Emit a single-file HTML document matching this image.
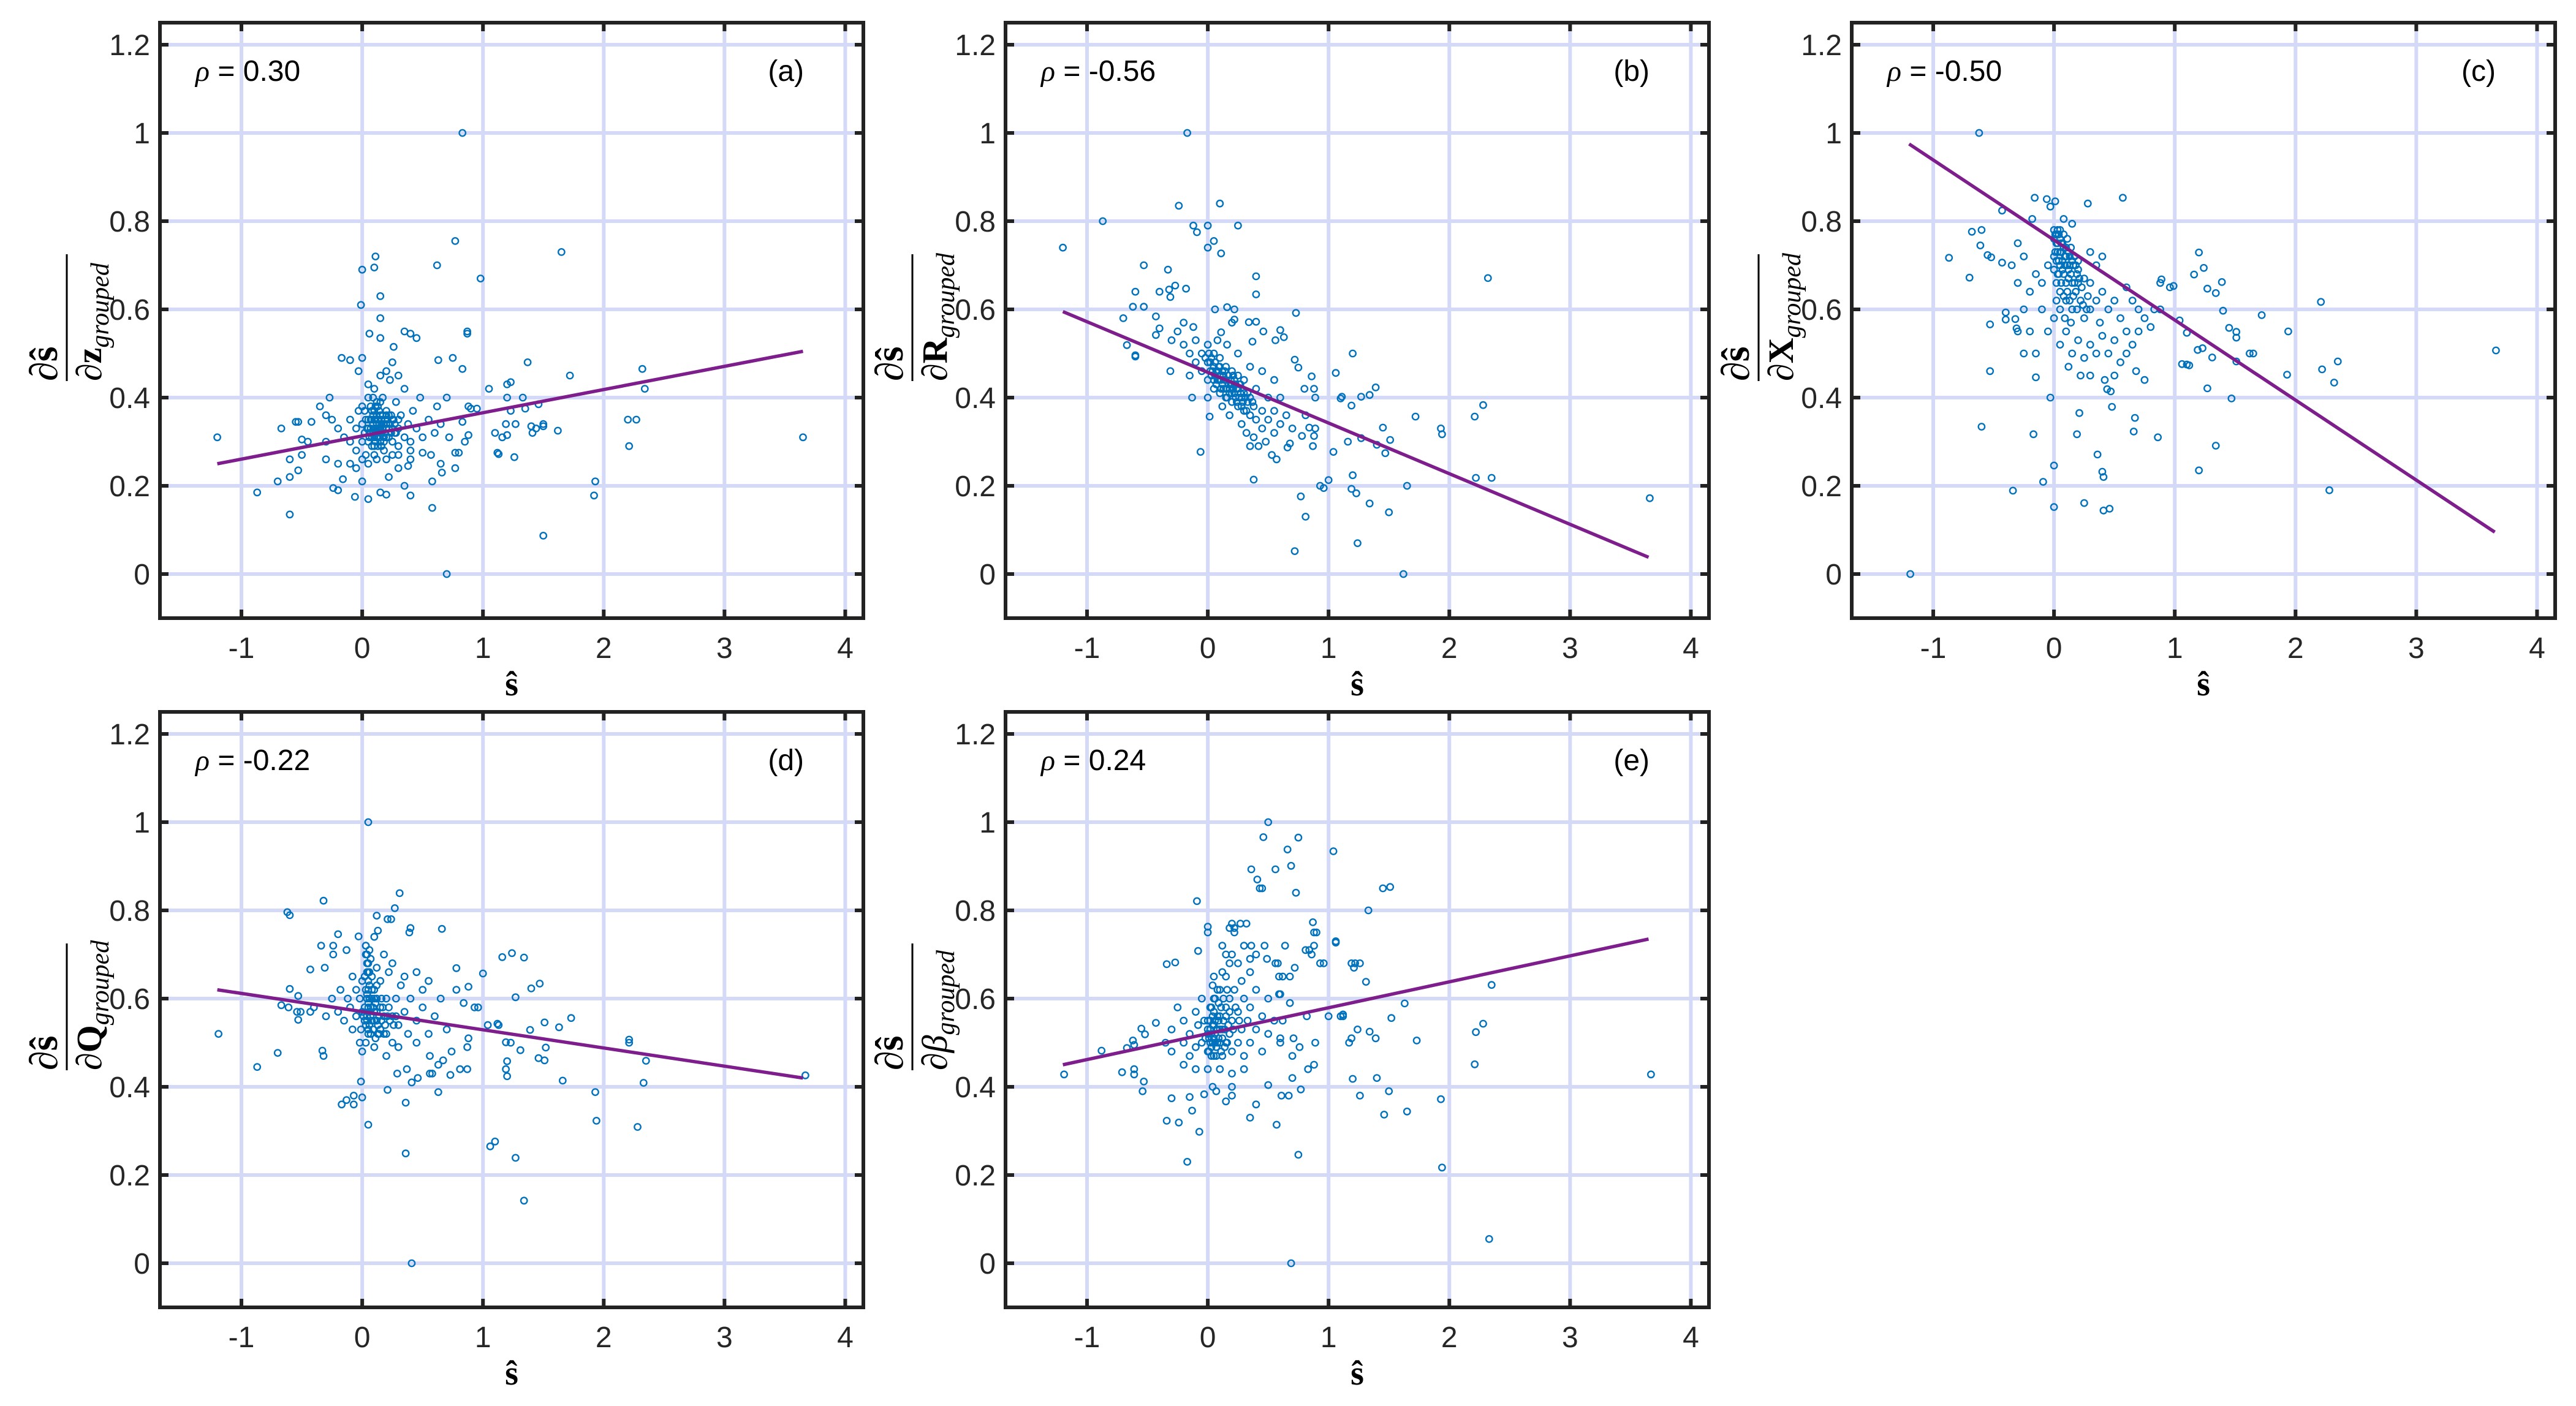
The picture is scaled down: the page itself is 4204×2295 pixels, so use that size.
<!DOCTYPE html>
<html><head><meta charset="utf-8"><title>Sensitivity scatter panels</title>
<style>
html,body{margin:0;padding:0;background:#fff;}
svg{display:block;}
.tick{font-family:"Liberation Sans",sans-serif;font-size:48px;fill:#262626;}
.ann{font-family:"Liberation Sans",sans-serif;font-size:48px;fill:#000;}
.ser{font-family:"Liberation Serif",serif;fill:#000;}
</style></head>
<body>
<svg id="fig" xmlns="http://www.w3.org/2000/svg" width="4204" height="2295" viewBox="0 0 4204 2295"></svg>
<script>
const xTicks = [-1, 0, 1, 2, 3, 4];
const yTicks = [0, 0.2, 0.4, 0.6, 0.8, 1, 1.2];
const yTickLabels = ["0", "0.2", "0.4", "0.6", "0.8", "1", "1.2"];
const xLim = [-1.675, 4.15];
const yLim = [-0.1, 1.25];
const panelLetters = ["(a)", "(b)", "(c)", "(d)", "(e)"];
const rhoLabels = ["0.30", "-0.56", "-0.50", "-0.22", "0.24"];
const denomSymbols = ["z", "R", "X", "Q", "β"];

const fitA = [-1.2, 0.25, 3.65, 0.505];
const fitB = [-1.2, 0.595, 3.65, 0.038];
const fitC = [-1.2, 0.975, 3.65, 0.095];
const fitD = [-1.2, 0.62, 3.65, 0.42];
const fitE = [-1.2, 0.45, 3.65, 0.735];

const ptsA = [[-1.2,0.31],[-0.87,0.185],[-0.6,0.135],[-0.7,0.21],[-0.6,0.22],[-0.53,0.235],[-0.6,0.26],[-0.67,0.33],[-0.55,0.345],[-0.53,0.345],[-0.42,0.345],[-0.45,0.3],[-0.5,0.305],[-0.5,0.27],[-0.35,0.38],[-0.3,0.36],[-0.27,0.4],[-0.17,0.49],[-0.1,0.485],[-0.03,0.46],[0,0.49],[-0.01,0.61],[0,0.69],[0.1,0.695],[0.11,0.72],[0.15,0.63],[0.15,0.58],[0.06,0.545],[0.15,0.535],[0.26,0.515],[0.35,0.55],[0.45,0.535],[0.4,0.545],[0.62,0.7],[0.77,0.755],[0.83,1.0],[0.98,0.67],[0.87,0.55],[0.87,0.545],[0.75,0.49],[0.63,0.485],[0.83,0.465],[1.65,0.73],[1.37,0.48],[1.72,0.45],[2.32,0.465],[2.34,0.42],[1.2,0.43],[1.23,0.435],[1.05,0.42],[1.2,0.4],[1.33,0.4],[1.46,0.385],[1.35,0.375],[1.23,0.37],[2.2,0.35],[2.27,0.35],[2.21,0.29],[1.5,0.34],[1.5,0.335],[1.4,0.335],[1.44,0.33],[1.27,0.34],[1.41,0.32],[1.62,0.325],[1.19,0.34],[1.1,0.32],[1.2,0.315],[1.16,0.31],[1.12,0.275],[1.13,0.272],[1.26,0.265],[3.65,0.31],[1.93,0.21],[1.92,0.178],[1.5,0.087],[0.7,0],[0.58,0.15],[0.4,0.178],[0.35,0.2],[0.2,0.18],[0.15,0.185],[0.05,0.17],[-0.06,0.175],[-0.2,0.19],[-0.24,0.195],[-0.16,0.215],[0,0.21],[0.22,0.22],[0.3,0.24],[0.38,0.245],[0.4,0.28],[0.58,0.21],[0.65,0.25],[0.66,0.23],[0.77,0.24],[0.8,0.275],[0.77,0.275],[0.72,0.31],[0.85,0.3],[0.88,0.315],[0.9,0.375],[0.88,0.38],[0.95,0.375],[0.83,0.345],[0.57,0.27],[0.5,0.275],[-0.1,0.25],[-0.05,0.24],[-0.2,0.25],[-0.3,0.26],[0.05,0.25],[0.12,0.26],[0.25,0.27],
[-0.2,0.33],[-0.15,0.31],[-0.1,0.35],[-0.1,0.3],[-0.05,0.28],[-0.05,0.33],[-0.03,0.37],[0,0.3],[0,0.34],[0,0.38],[0.02,0.32],[0.03,0.27],[0.05,0.35],[0.05,0.3],[0.05,0.4],[0.07,0.33],[0.08,0.31],[0.08,0.37],[0.1,0.29],[0.1,0.33],[0.1,0.35],[0.1,0.42],[0.12,0.31],[0.12,0.34],[0.13,0.38],[0.15,0.32],[0.15,0.3],[0.15,0.36],[0.17,0.33],[0.17,0.4],[0.18,0.28],[0.2,0.34],[0.2,0.31],[0.2,0.37],[0.22,0.33],[0.23,0.44],[0.25,0.3],[0.25,0.35],[0.27,0.32],[0.28,0.39],[0.3,0.33],[0.3,0.29],[0.32,0.36],[0.35,0.31],[0.35,0.42],[0.38,0.34],[0.4,0.3],[0.42,0.37],[0.45,0.33],[0.48,0.4],[0.5,0.31],[0.55,0.35],[0.6,0.32],[0.62,0.38],[0.65,0.34],[0.7,0.4],[0.2,0.46],[0.25,0.48],[0.15,0.45],[0.3,0.45],[0.05,0.43],[-0.3,0.3],[-0.25,0.35],[0,0.26],[0.1,0.27],[0.2,0.26],[0.3,0.27],[0.4,0.26],[0.12,0.36],[0.14,0.34],[0.06,0.32],[0.09,0.34],[0.11,0.3],[0.16,0.35],[0.19,0.32],[0.08,0.35],[0.13,0.33],[0.18,0.34],[0.04,0.33],[0.22,0.36],[0.11,0.38],[0.16,0.29],[0.24,0.32]];
const coreA = [[0.06,0.31],[0.07,0.35],[0.09,0.32],[0.1,0.31],[0.1,0.37],[0.11,0.33],[0.12,0.32],[0.13,0.35],[0.14,0.31],[0.14,0.37],[0.15,0.33],[0.16,0.32],[0.17,0.36],[0.18,0.31],[0.19,0.35],[0.2,0.33],[0.21,0.35],[0.22,0.31],[0.23,0.34],[0.24,0.36],[0.25,0.33],[0.26,0.35],[0.27,0.34],[0.28,0.32],[0.3,0.35],[0.07,0.38],[0.09,0.4],[0.12,0.39],[0.15,0.39],[0.08,0.29],[0.13,0.29],[0.18,0.3],[0.03,0.35],[0.02,0.37],[0.05,0.33],[0.09,0.36],[0.11,0.35],[0.16,0.34],[0.2,0.36],[0.14,0.33]];

const ptsB = [[-1.2,0.74],[-0.87,0.8],[-0.17,1.0],[-0.24,0.835],[0.1,0.84],[-0.12,0.79],[-0.09,0.775],[0,0.79],[0.25,0.79],[0.05,0.755],[0,0.74],[0.11,0.727],[-0.53,0.7],[-0.33,0.69],[0.4,0.675],[0.4,0.634],[-0.27,0.654],[-0.32,0.645],[-0.18,0.647],[-0.4,0.64],[-0.6,0.64],[-0.31,0.628],[-0.62,0.606],[-0.53,0.606],[0.06,0.6],[0.16,0.605],[0.22,0.6],[0.73,0.592],[-0.7,0.58],[-0.43,0.584],[-0.4,0.557],[-0.43,0.542],[-0.67,0.519],[-0.6,0.496],[-0.6,0.493],[-0.31,0.46],[-0.13,0.4],[0.015,0.357],[-0.06,0.277],[0.38,0.214],[1.2,0.5],[1.06,0.456],[1.39,0.423],[1.34,0.406],[1.27,0.402],[1.11,0.402],[1.1,0.398],[1.19,0.382],[1.72,0.357],[1.93,0.33],[1.94,0.317],[2.21,0.357],[2.28,0.383],[2.32,0.671],[1.45,0.332],[1.27,0.308],[1.51,0.304],[1.4,0.293],[1.47,0.274],[1.16,0.3],[1.04,0.277],[2.22,0.218],[2.35,0.218],[3.66,0.172],[1.65,0.2],[1.2,0.224],[1.19,0.193],[1.23,0.183],[1.34,0.16],[1.5,0.14],[0.93,0.2],[0.96,0.195],[1.0,0.213],[0.77,0.176],[0.81,0.13],[1.24,0.07],[0.72,0.052],[1.62,0],[0.57,0.26],[0.68,0.296],[0.66,0.287],[0.88,0.313],[0.87,0.29],[0.78,0.313],[0.89,0.33],[0.84,0.332],[0.81,0.36],[0.86,0.448],[0.88,0.42],[0.8,0.42],[0.89,0.4],[0.75,0.468],[0.72,0.486],[0.6,0.553],[0.63,0.537],[0.56,0.53],[0.46,0.55],[0.37,0.527],[0.34,0.571],[0.4,0.572],[0.22,0.577],[0.2,0.57],[0.11,0.548],
[-0.2,0.52],[-0.15,0.5],[-0.1,0.48],[-0.1,0.53],[-0.05,0.46],[-0.05,0.5],[0,0.44],[0,0.48],[0,0.52],[0.02,0.46],[0.05,0.42],[0.05,0.47],[0.05,0.5],[0.08,0.44],[0.1,0.41],[0.1,0.45],[0.1,0.49],[0.12,0.43],[0.15,0.4],[0.15,0.44],[0.15,0.47],[0.18,0.42],[0.2,0.39],[0.2,0.43],[0.2,0.46],[0.22,0.41],[0.25,0.38],[0.25,0.42],[0.25,0.45],[0.28,0.4],[0.3,0.37],[0.3,0.41],[0.3,0.44],[0.33,0.39],[0.35,0.36],[0.35,0.4],[0.38,0.38],[0.4,0.35],[0.4,0.42],[0.45,0.37],[0.45,0.33],[0.5,0.35],[0.5,0.4],[0.55,0.32],[0.55,0.37],[0.6,0.34],[0.6,0.4],[0.65,0.36],[0.7,0.33],[0.12,0.38],[0.18,0.36],[0.28,0.34],[0.38,0.31],[0.42,0.29],[0.48,0.3],[0.53,0.27],[0.35,0.29],[0.32,0.32],[-0.25,0.55],[-0.3,0.53],[-0.2,0.57],[-0.12,0.56],[0.08,0.53],[0.16,0.52],[0.25,0.5],[0.35,0.47],[0.45,0.46],[0.55,0.44],[-0.15,0.45],[0,0.4],[0.07,0.46],[0.13,0.45],[0.17,0.43],[0.23,0.43],[0.03,0.49],[0.09,0.47],[0.19,0.44],[0.27,0.41]];
const coreB = [[0.02,0.48],[0.04,0.46],[0.06,0.45],[0.08,0.46],[0.09,0.44],[0.11,0.44],[0.12,0.46],[0.13,0.42],[0.14,0.44],[0.16,0.42],[0.17,0.45],[0.18,0.41],[0.19,0.43],[0.21,0.42],[0.22,0.44],[0.23,0.4],[0.24,0.42],[0.26,0.4],[0.27,0.43],[0.29,0.39],[0.31,0.4],[0.06,0.48],[0.1,0.47],[0.14,0.46],[0.03,0.45],[0.07,0.43],[0.11,0.42],[0.15,0.42],[0.2,0.41],[0.24,0.39],[0.28,0.38],[0.32,0.37],[0.01,0.5],[-0.02,0.49],[0.05,0.44],[0.16,0.4],[0.21,0.45],[0.26,0.43],[0.33,0.41],[0.37,0.39]];

const ptsC = [[-0.62,1.0],[-1.19,0],[-0.16,0.853],[-0.06,0.85],[-0.03,0.833],[0.01,0.845],[0.28,0.84],[0.57,0.853],[-0.43,0.824],[-0.18,0.805],[0.08,0.805],[0.15,0.794],[-0.68,0.776],[-0.6,0.78],[-0.61,0.745],[-0.87,0.717],[-0.7,0.672],[-0.55,0.723],[-0.52,0.718],[-0.43,0.706],[-0.53,0.566],[-0.4,0.593],[-0.4,0.577],[-0.32,0.578],[-0.31,0.557],[-0.53,0.46],[-0.6,0.334],[-0.34,0.189],[-0.17,0.317],[-0.15,0.446],[-0.03,0.4],[0,0.246],[0,0.152],[-0.09,0.209],[0.21,0.365],[0.19,0.317],[0.25,0.161],[0.36,0.271],[0.4,0.232],[0.41,0.22],[0.41,0.144],[0.46,0.148],[0.44,0.419],[0.47,0.414],[0.48,0.379],[0.67,0.354],[0.66,0.323],[0.86,0.31],[1.34,0.291],[1.2,0.235],[2.28,0.19],[1.27,0.421],[1.47,0.398],[1.06,0.476],[1.1,0.475],[1.12,0.473],[1.19,0.508],[1.23,0.512],[1.31,0.491],[1.51,0.482],[1.62,0.5],[1.65,0.5],[1.93,0.452],[2.22,0.464],[2.35,0.482],[2.32,0.434],[3.66,0.507],[2.21,0.617],[1.72,0.587],[1.94,0.55],[1.45,0.558],[1.51,0.549],[1.51,0.536],[1.4,0.597],[1.2,0.729],[1.24,0.694],[1.16,0.679],[1.39,0.662],[1.27,0.647],[1.34,0.637],[1.04,0.575],[1.1,0.547],[0.99,0.653],[0.96,0.65],[0.89,0.668],[0.88,0.66],[0.83,0.6],[0.88,0.6],
[0,0.78],[0,0.76],[0.02,0.77],[0.03,0.75],[0.05,0.76],[0.05,0.73],[0.08,0.74],[0.1,0.72],[0.12,0.73],[0.15,0.71],[0.18,0.7],[0.2,0.69],[0,0.72],[0,0.69],[0.02,0.66],[0.05,0.7],[0.05,0.64],[0.08,0.68],[0.1,0.66],[0.1,0.62],[0.12,0.69],[0.15,0.66],[0.15,0.6],[0.18,0.64],[0.2,0.66],[0.22,0.62],[0.25,0.67],[0.25,0.58],[0.28,0.63],[0.3,0.6],[0.3,0.66],[0.35,0.62],[0.38,0.57],[0.4,0.64],[0.45,0.6],[0.5,0.62],[0.55,0.58],[0.6,0.55],[-0.05,0.7],[-0.1,0.66],[-0.15,0.68],[-0.2,0.64],[-0.25,0.6],[-0.3,0.66],[-0.1,0.6],[-0.05,0.55],[0,0.58],[0.05,0.52],[0.1,0.55],[0.15,0.5],[0.2,0.53],[0.25,0.49],[0.3,0.52],[0.35,0.5],[0.4,0.54],[0.45,0.5],[0.5,0.53],[0.55,0.48],[0.6,0.5],[0.65,0.52],[0.7,0.55],[0.75,0.58],[0.8,0.56],[-0.2,0.55],[-0.25,0.5],[-0.15,0.5],[0.12,0.47],[0.22,0.45],[0.3,0.45],[0.42,0.44],[-0.3,0.55],[0.6,0.65],[0.65,0.62],[0.7,0.6],[0.35,0.7],[0.4,0.72],[0.3,0.73],[-0.35,0.7],[-0.25,0.72],[-0.3,0.75],[0.5,0.45],[0.68,0.46],[0.75,0.44],[0.03,0.78],[0.06,0.75],[0.09,0.72],[0.13,0.7],[0.07,0.71],[0.04,0.68]];
const coreC = [[0.01,0.77],[0.02,0.75],[0.03,0.73],[0.04,0.77],[0.04,0.71],[0.06,0.73],[0.07,0.75],[0.07,0.69],[0.09,0.7],[0.1,0.74],[0.11,0.7],[0.12,0.67],[0.13,0.72],[0.14,0.68],[0.16,0.7],[0.17,0.66],[0.19,0.68],[0.21,0.67],[0.23,0.65],[0.03,0.68],[0.06,0.66],[0.08,0.63],[0.11,0.64],[0.13,0.62],[0.16,0.63],[0.19,0.6],[0.02,0.62],[0.05,0.6],[0.09,0.58],[0.14,0.57],[0.24,0.61],[0.27,0.6],[0.01,0.73],[0.02,0.71],[0.05,0.78],[0.08,0.77],[0.11,0.76],[0.14,0.74],[0.17,0.72],[0.2,0.71]];

const ptsD = [[-1.19,0.52],[-0.87,0.445],[-0.7,0.477],[-0.62,0.796],[-0.6,0.789],[-0.32,0.822],[0.31,0.839],[0.27,0.805],[0.12,0.788],[0.24,0.78],[0.13,0.754],[0.4,0.76],[0.66,0.758],[-0.03,0.741],[-0.2,0.746],[-0.34,0.72],[-0.13,0.71],[-0.43,0.666],[-0.6,0.622],[-0.53,0.606],[-0.67,0.585],[-0.53,0.552],[-0.33,0.482],[-0.01,0.412],[0,0.376],[-0.17,0.36],[0.05,0.314],[0.36,0.249],[0.36,0.364],[0.21,0.393],[0.63,0.388],[0.41,0],[0.05,1.0],[1.34,0.142],[1.27,0.239],[1.06,0.265],[1.1,0.276],[1.93,0.388],[1.94,0.323],[2.28,0.309],[2.33,0.409],[2.35,0.459],[3.67,0.426],[2.21,0.507],[1.66,0.414],[1.73,0.556],[1.63,0.535],[1.51,0.546],[1.39,0.529],[1.52,0.489],[1.46,0.465],[1.31,0.483],[1.19,0.501],[1.2,0.458],[1.2,0.424],[1.27,0.603],[1.4,0.623],[1.47,0.634],[1.24,0.703],[1.34,0.693],[1.16,0.694],[1.0,0.657],[1.12,0.543],[0.88,0.627],[0.78,0.669],[0.73,0.427],
[0.21,0.78],[0.39,0.75],[0.03,0.72],[-0.24,0.72],[-0.24,0.7],[-0.31,0.67],[-0.61,0.58],[-0.54,0.57],[-0.51,0.57],[-0.43,0.57],[-0.4,0.58],[-0.32,0.47],[-0.07,0.38],[-0.07,0.36],[-0.13,0.37],[2.21,0.5],[1.51,0.46],[1.23,0.5],[1.19,0.44],[1.04,0.54],[1.13,0.54],[0.96,0.58],[0.93,0.58],[0.78,0.62],[0.84,0.59],[0.81,0.44],[0.87,0.44],[0.56,0.43],[0.58,0.43],[0.46,0.42],[0.41,0.41],[0.29,0.43],[0.37,0.44],[0.63,0.45],[0.67,0.46],[0.56,0.47],[0.74,0.48],[0.87,0.49],[0.88,0.51],
[0.03,0.72],[0.04,0.7],[0.05,0.68],[0.04,0.66],[0.05,0.64],[0.03,0.62],[0.06,0.6],[0.05,0.58],[0.04,0.56],[0.06,0.54],[0.05,0.52],[0.03,0.5],[0.07,0.69],[0.08,0.65],[0.08,0.6],[0.08,0.55],[0.1,0.57],[0.1,0.62],[0.12,0.55],[0.12,0.6],[0.15,0.58],[0.15,0.53],[0.15,0.64],[0.18,0.56],[0.2,0.6],[0.2,0.52],[0.22,0.66],[0.25,0.56],[0.25,0.5],[0.28,0.6],[0.3,0.54],[0.32,0.63],[0.35,0.57],[0.38,0.52],[0.4,0.6],[0.45,0.55],[0.5,0.58],[0.55,0.52],[0.6,0.56],[0.65,0.6],[0.7,0.53],[-0.02,0.6],[-0.05,0.56],[-0.05,0.62],[-0.08,0.53],[-0.1,0.58],[-0.12,0.6],[-0.15,0.55],[-0.18,0.62],[-0.2,0.57],[-0.25,0.6],[-0.3,0.56],[-0.08,0.65],[-0.02,0.5],[0,0.48],[0.1,0.49],[0.2,0.47],[0.3,0.49],[0.45,0.5],[0.12,0.67],[0.18,0.7],[0.25,0.68],[0.1,0.74],[0.35,0.65],[0.45,0.66],[0.5,0.62],[0.55,0.64],[0.02,0.55],[0,0.64],[0.13,0.52],[0.04,0.6],[0.06,0.66],[0.05,0.62],[0.07,0.58]];
const coreD = [[0.03,0.7],[0.04,0.68],[0.05,0.66],[0.06,0.63],[0.04,0.61],[0.05,0.59],[0.06,0.57],[0.04,0.55],[0.05,0.53],[0.07,0.56],[0.09,0.58],[0.1,0.55],[0.11,0.59],[0.12,0.57],[0.13,0.54],[0.14,0.56],[0.16,0.55],[0.17,0.58],[0.19,0.54],[0.21,0.56],[0.23,0.55],[0.07,0.52],[0.09,0.53],[0.11,0.51],[0.14,0.52],[0.02,0.58],[0.01,0.56],[0.03,0.54],[0.02,0.65],[0.06,0.71],[0.08,0.62],[0.1,0.6],[0.12,0.63],[0.16,0.6],[0.18,0.52],[0.22,0.58],[0.26,0.54],[0.28,0.56],[-0.01,0.53],[0.0,0.57]];

const ptsE = [[-1.19,0.428],[-0.88,0.482],[-0.71,0.433],[-0.67,0.488],[-0.62,0.505],[-0.61,0.495],[-0.61,0.44],[-0.61,0.428],[-0.53,0.412],[-0.54,0.39],[-0.55,0.532],[-0.52,0.519],[-0.43,0.545],[-0.34,0.678],[-0.27,0.682],[-0.09,0.821],[-0.08,0.708],[0,0.763],[0,0.75],[-0.34,0.323],[-0.24,0.319],[-0.17,0.23],[-0.07,0.298],[-0.13,0.346],[-0.15,0.377],[-0.3,0.374],[-0.03,0.383],[0.15,0.367],[0.35,0.33],[0.5,0.404],[0.57,0.314],[0.75,0.246],[0.69,0],[0.77,0.394],[0.5,1.0],[0.46,0.966],[0.75,0.965],[0.66,0.938],[0.69,0.901],[0.56,0.893],[0.36,0.893],[0.45,0.85],[0.73,0.84],[1.04,0.934],[1.45,0.85],[1.51,0.853],[1.33,0.8],[0.87,0.773],[0.88,0.75],[0.9,0.75],[1.06,0.727],[1.19,0.68],[1.31,0.638],[1.12,0.564],[1.0,0.56],[1.63,0.589],[1.52,0.556],[1.34,0.525],[1.73,0.505],[2.35,0.631],[2.28,0.543],[2.22,0.524],[2.21,0.451],[3.67,0.428],[1.93,0.372],[1.94,0.217],[2.33,0.055],[1.2,0.418],[1.46,0.337],[1.65,0.344],
[0.88,0.72],[1.06,0.73],[0.81,0.71],[0.84,0.71],[0.86,0.7],[0.93,0.68],[0.96,0.68],[0.72,0.67],[0.68,0.65],[0.59,0.65],[0.62,0.65],[0.58,0.68],[0.64,0.72],[0.56,0.68],[0.47,0.72],[0.49,0.69],[0.36,0.72],[0.35,0.69],[0.32,0.77],[0.27,0.77],[0.22,0.76],[0.2,0.77],[0.18,0.76],[0.89,0.5],[0.76,0.49],[0.83,0.44],[0.88,0.45],[0.7,0.42],[0.7,0.47],[0.6,0.51],[0.71,0.51],[0.62,0.55],[0.6,0.61],[0.68,0.59],[0.59,0.61],[0.61,0.38],[0.67,0.38],[0.04,0.4],[0.07,0.39],[0.2,0.4],[0.2,0.38],[0.4,0.36],[0.41,0.87],[0.43,0.85],[1.1,0.56],[1.12,0.56],[0.82,0.56],[1.24,0.53],[1.39,0.51],[1.19,0.51],[1.17,0.5],[1.4,0.42],[1.26,0.38],[1.5,0.39],[1.22,0.68],[1.26,0.68],[1.21,0.67],
[-0.05,0.5],[0,0.48],[0,0.52],[0,0.55],[0.02,0.5],[0.03,0.58],[0.05,0.47],[0.05,0.51],[0.05,0.54],[0.05,0.6],[0.07,0.49],[0.08,0.53],[0.1,0.5],[0.1,0.56],[0.1,0.62],[0.12,0.47],[0.12,0.53],[0.15,0.5],[0.15,0.58],[0.15,0.65],[0.18,0.52],[0.18,0.6],[0.2,0.48],[0.2,0.55],[0.2,0.7],[0.22,0.62],[0.25,0.5],[0.25,0.57],[0.28,0.53],[0.28,0.64],[0.3,0.47],[0.3,0.6],[0.33,0.55],[0.35,0.5],[0.35,0.58],[0.4,0.53],[0.4,0.62],[0.45,0.48],[0.45,0.56],[0.5,0.52],[0.5,0.6],[0.55,0.55],[0.6,0.5],[-0.08,0.54],[-0.1,0.49],[-0.1,0.57],[-0.15,0.52],[-0.15,0.47],[-0.2,0.55],[-0.2,0.5],[-0.25,0.58],[-0.3,0.53],[-0.3,0.48],[-0.35,0.5],[-0.2,0.45],[-0.1,0.44],[0,0.44],[0.1,0.44],[0.2,0.43],[0.3,0.44],[0.15,0.7],[0.18,0.68],[0.12,0.72],[0.22,0.75],[0.05,0.65],[-0.05,0.6],[0.25,0.68],[0.35,0.66],[0.4,0.7],[0.3,0.72],[0.02,0.53],[0.04,0.56],[0.06,0.52],[0.08,0.5],[0.03,0.49]];
const coreE = [[0.01,0.51],[0.02,0.55],[0.03,0.52],[0.04,0.5],[0.04,0.54],[0.05,0.57],[0.06,0.5],[0.06,0.55],[0.07,0.53],[0.08,0.56],[0.09,0.51],[0.09,0.55],[0.1,0.53],[0.11,0.58],[0.12,0.51],[0.13,0.55],[0.14,0.53],[0.15,0.56],[0.16,0.5],[0.17,0.54],[0.0,0.53],[-0.02,0.51],[-0.03,0.55],[0.01,0.48],[0.03,0.47],[0.07,0.47],[0.02,0.58],[0.06,0.6],[0.09,0.59],[0.13,0.6],[0.16,0.62],[0.12,0.66],[0.18,0.57],[0.21,0.53],[0.23,0.58],[0.26,0.55],[0.14,0.49],[0.11,0.48],[0.08,0.62],[0.04,0.63]];

const allPts = [ptsA.concat(coreA), ptsB.concat(coreB), ptsC.concat(coreC), ptsD.concat(coreD), ptsE.concat(coreE)];
const allFits = [fitA, fitB, fitC, fitD, fitE];
const panelOrigins = [[261,37],[1641,37],[3022,37],[261,1162],[1641,1162]];
const PW = 1148, PH = 972;
const NS = "http://www.w3.org/2000/svg";
const svg = document.getElementById('fig');

function mk(tag, attrs, parent, text) {
  const el = document.createElementNS(NS, tag);
  for (const k in attrs) el.setAttribute(k, attrs[k]);
  if (text !== undefined) el.textContent = text;
  parent.appendChild(el);
  return el;
}

allPts.forEach((pts, p) => {
  const L = panelOrigins[p][0], T = panelOrigins[p][1];
  const sx = v => L + (v - xLim[0]) / (xLim[1] - xLim[0]) * PW;
  const sy = v => T + PH - (v - yLim[0]) / (yLim[1] - yLim[0]) * PH;
  const g = mk('g', {}, svg);
  
  

  const bg = mk('rect', {x: L, y: T, width: PW, height: PH, fill: '#fff'}, g);
  
  

  const grid = mk('g', {stroke: '#d4d9f8', 'stroke-width': 6}, g);
  
  
  xTicks.forEach(t => mk('line', {x1: sx(t), x2: sx(t), y1: T, y2: T + PH}, grid));
  yTicks.forEach(t => mk('line', {x1: L, x2: L + PW, y1: sy(t), y2: sy(t)}, grid));

  const marks = mk('g', {fill: 'none', stroke: '#0072BD', 'stroke-width': 2.4}, g);
  
  
  pts.forEach(d => {
    const c = mk('circle', {cx: sx(d[0]).toFixed(1), cy: sy(d[1]).toFixed(1), r: 5.2}, marks);
    
    
  });

  const f = allFits[p];
  const fl = mk('line', {x1: sx(f[0]), y1: sy(f[1]), x2: sx(f[2]), y2: sy(f[3]), stroke: '#7E1E8C', 'stroke-width': 5.5}, g);
  
  

  const ax = mk('g', {stroke: '#222', 'stroke-width': 6}, g);
  
  
  xTicks.forEach(t => {
    mk('line', {x1: sx(t), x2: sx(t), y1: T + PH, y2: T + PH - 14}, ax);
    mk('line', {x1: sx(t), x2: sx(t), y1: T, y2: T + 14}, ax);
  });
  yTicks.forEach(t => {
    mk('line', {x1: L, x2: L + 14, y1: sy(t), y2: sy(t)}, ax);
    mk('line', {x1: L + PW, x2: L + PW - 14, y1: sy(t), y2: sy(t)}, ax);
  });
  mk('rect', {x: L, y: T, width: PW, height: PH, fill: 'none'}, ax);

  const xt = mk('g', {class: 'tick', 'text-anchor': 'middle'}, g);
  
  
  xTicks.forEach(t => mk('text', {x: sx(t), y: T + PH + 65}, xt, String(t)));
  const yt = mk('g', {class: 'tick', 'text-anchor': 'end'}, g);
  
  
  yTicks.forEach((t, i) => mk('text', {x: L - 16, y: sy(t) + 17}, yt, yTickLabels[i]));

  const xl = mk('text', {x: L + PW / 2, y: T + PH + 126, class: 'ser', 'font-size': 56, 'font-weight': 'bold', 'text-anchor': 'middle'}, g, 'ŝ');
  
  

  const rho = mk('text', {x: L + 58, y: T + 95, class: 'ann'}, g);
  
  
  mk('tspan', {'font-family': '"Liberation Serif", serif', 'font-style': 'italic'}, rho, 'ρ');
  mk('tspan', {}, rho, ' = ' + rhoLabels[p]);

  const pl = mk('text', {x: L + PW - 97, y: T + 95, class: 'ann', 'text-anchor': 'end'}, g, panelLetters[p]);
  
  

  const yl = mk('g', {}, g);
  
  
  const by = T + 585;
  const nx = L - 168;
  const nt = mk('text', {x: nx, y: by, transform: `rotate(-90 ${nx} ${by})`, class: 'ser', 'font-size': 64}, yl);
  mk('tspan', {}, nt, '∂');
  mk('tspan', {'font-weight': 'bold'}, nt, 'ŝ');
  mk('line', {x1: L - 152, x2: L - 152, y1: T + 378, y2: by, stroke: '#000', 'stroke-width': 3}, yl);
  const dx = L - 96;
  const dt = mk('text', {x: dx, y: by, transform: `rotate(-90 ${dx} ${by})`, class: 'ser', 'font-size': 58}, yl);
  mk('tspan', {}, dt, '∂');
  const sym = denomSymbols[p];
  if (sym === 'β') mk('tspan', {'font-style': 'italic'}, dt, sym);
  else mk('tspan', {'font-weight': 'bold'}, dt, sym);
  mk('tspan', {'font-style': 'italic', 'font-size': 42, dy: 12}, dt, 'grouped');
});
</script>
</body></html>
